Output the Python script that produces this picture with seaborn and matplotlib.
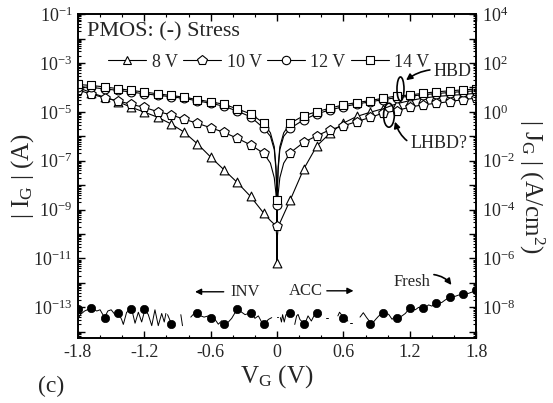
import numpy as np
import matplotlib
matplotlib.use("Agg")
import matplotlib.pyplot as plt
import seaborn as sns
from matplotlib.lines import Line2D
from matplotlib.patches import Ellipse
from matplotlib.ticker import FixedLocator, LogLocator, FuncFormatter, MultipleLocator, NullFormatter

nan = float("nan")

# gate voltage of the markers (V)
vg = [-1.8, -1.68, -1.56, -1.44, -1.32, -1.2, -1.08, -0.96, -0.84, -0.72, -0.6, -0.48, -0.36, -0.24, -0.12, 0.0,
      0.12, 0.24, 0.36, 0.48, 0.6, 0.72, 0.84, 0.96, 1.08, 1.2, 1.32, 1.44, 1.56, 1.68, 1.8]

# log10 |I_G| (A) after each stress voltage
ig_8v = [-4.0, -4.22, -4.4, -4.58, -4.81, -5.01, -5.22, -5.49, -5.83, -6.31, -6.85, -7.37, -7.89, -8.46, -9.15, -11.2,
         -8.6, -7.35, -6.39, -5.87, -5.46, -5.19, -5.02, -4.87, -4.67, -4.54, -4.44, -4.37, -4.33, -4.29, -4.24]
ig_10v = [-4.1, -4.28, -4.42, -4.55, -4.69, -4.82, -4.99, -5.12, -5.3, -5.47, -5.65, -5.84, -6.08, -6.35, -6.7, -9.68,
          -6.67, -6.25, -5.98, -5.73, -5.57, -5.40, -5.23, -5.05, -4.95, -4.81, -4.71, -4.65, -4.58, -4.50, -4.44]
ig_12v = [-3.98, -4.0, -4.06, -4.12, -4.19, -4.26, -4.32, -4.38, -4.45, -4.55, -4.65, -4.77, -4.97, -5.2, -5.67, -8.8,
          -5.67, -5.33, -5.08, -4.92, -4.79, -4.68, -4.59, -4.50, -4.42, -4.36, -4.30, -4.25, -4.21, -4.17, -4.14]
ig_14v = [-3.88, -3.92, -3.98, -4.05, -4.12, -4.19, -4.26, -4.33, -4.40, -4.50, -4.59, -4.69, -4.88, -5.08, -5.46, -8.6,
          -5.46, -5.16, -4.99, -4.85, -4.71, -4.62, -4.54, -4.44, -4.35, -4.31, -4.24, -4.18, -4.14, -4.10, -4.07]

# extra line points close to 0 V (no markers there)
dip_vg = [-0.06, -0.025, -0.01, -0.003, 0.003, 0.01, 0.025, 0.06]
dip_8v = [-9.45, -9.6, -9.7, -10.1, -10.1, -9.7, -9.55, -9.2]
dip_10v = [-7.1, -7.7, -8.35, -9.0, -9.0, -8.35, -7.7, -7.1]
dip_12v = [-6.0, -6.55, -7.35, -8.2, -8.2, -7.35, -6.55, -6.0]
dip_14v = [-5.86, -6.43, -7.24, -8.06, -8.06, -7.24, -6.43, -5.86]

# fresh device: noisy trace (nan = gap) and its markers
fresh_vg = [-1.80, -1.78, -1.74, -1.68, -1.63, -1.60, -1.56, -1.53, -1.50, -1.465, -1.435, -1.405, -1.39, -1.36,
            -1.314, -1.284, -1.254, -1.224, -1.194, -1.164, -1.133, -1.104, -1.074, -1.043, -1.02, -1.005, nan,
            -0.99, -0.953, nan, -0.87, -0.855, nan,
            -0.78, -0.75, -0.72, -0.69, -0.66, -0.62, -0.591, -0.56, -0.531, -0.50, -0.47, -0.44, -0.41, -0.38,
            -0.35, -0.32, -0.289, -0.26, -0.229, -0.20, -0.169, -0.14, -0.109, -0.08, -0.048, nan,
            -0.005, 0.012, nan,
            0.03, 0.04, 0.05, 0.065, 0.08, 0.11, 0.133, nan,
            0.16, 0.177, 0.19, 0.207, 0.25, 0.28, 0.31, 0.34, 0.37, 0.40, nan,
            0.44, 0.46, nan,
            0.55, 0.565, 0.58, 0.61, 0.64, nan, 0.66, 0.68, nan,
            0.75, 0.78, 0.81, 0.856, 0.89, 0.92, 0.95, 0.977, 1.01, 1.04, 1.07, 1.097, 1.13, 1.16, 1.19, 1.218,
            1.25, 1.28, 1.31, 1.339, 1.37, 1.40, 1.43, 1.459, 1.49, 1.52, 1.55, 1.58, 1.61, 1.64, 1.67, 1.70,
            1.73, 1.76, 1.80]
fresh_ig = [-13.5, -13.3, -13.15, -13.03, -13.15, -13.1, -13.42, -13.15, -13.1, -13.3, -13.22, -13.5, -13.7, -13.2,
            -13.08, -13.65, -13.2, -13.6, -13.08, -13.3, -13.75, -13.1, -13.75, -13.25, -13.6, -13.25, nan,
            -13.3, -13.69, nan, -13.3, -13.75, nan,
            -13.4, -13.25, -13.22, -13.35, -13.4, -13.35, -13.42, -13.5, -13.69, -13.55, -13.69, -13.6, -13.45,
            -13.22, -13.08, -13.2, -13.3, -13.25, -13.22, -13.45, -13.35, -13.6, -13.69, -13.5, -13.42, nan,
            -13.4, -13.4, nan,
            -13.42, -13.6, -13.3, -13.6, -13.3, -13.25, -13.22, nan,
            -13.7, -13.35, -13.29, -13.5, -13.69, -13.35, -13.56, -13.29, -13.22, -13.29, nan,
            -13.42, -13.42, nan,
            -13.35, -13.2, -13.29, -13.42, -13.56, nan, -13.63, -13.63, nan,
            -13.4, -13.22, -13.42, -13.69, -13.5, -13.35, -13.29, -13.22, -13.29, -13.49, -13.35, -13.42, -13.35,
            -13.25, -13.08, -13.02, -13.1, -13.0, -13.08, -13.02, -12.9, -12.95, -12.85, -12.84, -12.8, -12.7,
            -12.62, -12.58, -12.55, -12.5, -12.48, -12.47, -12.43, -12.38, -12.31]
fresh_mk_vg = [-1.8, -1.68, -1.56, -1.44, -1.32, -1.2, -0.96, -0.72, -0.6, -0.48, -0.36, -0.24, -0.12,
               0.12, 0.24, 0.36, 0.6, 0.84, 0.96, 1.08, 1.2, 1.32, 1.44, 1.56, 1.68, 1.8]
fresh_mk = [-13.05, -13.03, -13.42, -13.22, -13.08, -13.08, -13.69, -13.22, -13.42, -13.69, -13.08, -13.22, -13.69,
            -13.22, -13.69, -13.22, -13.42, -13.69, -13.22, -13.42, -13.02, -13.02, -12.84, -12.58, -12.47, -12.31]

gate_area = 1e-5  # cm^2, J_G = I_G / area
y_lo, y_hi = 5.5e-15, 1e-1

sns.set_theme(style="ticks")
plt.rcParams["font.family"] = ["Liberation Serif", "DejaVu Serif"]
plt.rcParams["mathtext.fontset"] = "custom"
plt.rcParams["mathtext.rm"] = "Liberation Serif"
plt.rcParams["mathtext.it"] = "Liberation Serif:italic"
plt.rcParams["axes.linewidth"] = 1.2

fig = plt.figure(figsize=(5.53, 4.03), dpi=100)
ax = fig.add_axes([0.141, 0.161, 0.72, 0.804])

# (values, dip values, marker, marker area, legend label)
curves = [(ig_8v, dip_8v, "^", 40, "8 V"), (ig_10v, dip_10v, "p", 52, "10 V"),
          (ig_12v, dip_12v, "o", 40, "12 V"), (ig_14v, dip_14v, "s", 38, "14 V")]
handles = []
for vals, dips, mk, size, lab in curves:
    x = np.array(vg + dip_vg)
    y = 10.0 ** np.array(vals + dips)
    order = np.argsort(x)
    sns.lineplot(x=x[order], y=y[order], sort=False, estimator=None, color="black", linewidth=0.8, ax=ax)
    sns.scatterplot(x=vg, y=10.0 ** np.array(vals), marker=mk, s=size, facecolor="white", edgecolor="black",
                    linewidth=0.8, zorder=3, ax=ax)
    handles.append(Line2D([], [], color="black", lw=0.8, marker=mk, markersize=np.sqrt(size) - 0.3,
                          markerfacecolor="white", markeredgecolor="black", markeredgewidth=0.8))

# fresh trace, one segment at a time so the gaps stay open
fx = np.array(fresh_vg)
fy = np.array(fresh_ig)
seg = np.cumsum(np.isnan(fy))
for k in np.unique(seg):
    m = (seg == k) & ~np.isnan(fy)
    if m.sum() > 1:
        sns.lineplot(x=fx[m], y=10.0 ** fy[m], sort=False, estimator=None, color="black", linewidth=0.7, ax=ax)
sns.scatterplot(x=fresh_mk_vg, y=10.0 ** np.array(fresh_mk), marker="o", s=36, color="black",
                edgecolor="black", linewidth=0.5, zorder=3, ax=ax)

ax.set_yscale("log")
ax.set_xlim(-1.8, 1.8)
ax.set_ylim(y_lo, y_hi)

ax.xaxis.set_major_locator(FixedLocator([-1.8, -1.2, -0.6, 0, 0.6, 1.2, 1.8]))
ax.set_xticklabels(["-1.8", "-1.2", "-0.6", "0", "0.6", "1.2", "1.8"])
ax.xaxis.set_minor_locator(MultipleLocator(0.2))

ax.yaxis.set_major_locator(FixedLocator([10.0 ** e for e in range(-14, 0)]))
ax.yaxis.set_major_formatter(FuncFormatter(
    lambda v, p: r"$\mathregular{10^{%d}}$" % round(np.log10(v)) if round(np.log10(v)) % 2 else ""))
ax.yaxis.set_minor_locator(LogLocator(base=10, subs=np.arange(2, 10), numticks=100))
ax.yaxis.set_minor_formatter(NullFormatter())

ax2 = ax.twinx()
ax2.set_yscale("log")
ax2.set_ylim(y_lo / gate_area, y_hi / gate_area)
ax2.yaxis.set_major_locator(FixedLocator([10.0 ** e for e in range(-9, 5)]))
ax2.yaxis.set_major_formatter(FuncFormatter(
    lambda v, p: "" if round(np.log10(v)) % 2 else r"$\mathregular{10^{%d}}$" % round(np.log10(v))))
ax2.yaxis.set_minor_locator(LogLocator(base=10, subs=np.arange(2, 10), numticks=100))
ax2.yaxis.set_minor_formatter(NullFormatter())

ax.tick_params(which="both", direction="in", top=True, right=False, labelsize=13, color="black", pad=4)
ax.tick_params(which="major", length=5, width=1)
ax.tick_params(which="minor", length=2.5, width=0.8)
ax2.tick_params(which="both", direction="in", labelsize=13, color="black", pad=4)
ax2.tick_params(which="major", length=5, width=1)
ax2.tick_params(which="minor", length=2.5, width=0.8)
for a in (ax, ax2):
    for s in a.spines.values():
        s.set_color("black")
        s.set_linewidth(1.2)

ax.set_xlabel(r"V$_\mathregular{G}$ (V)", fontsize=18, labelpad=2)
ax.set_ylabel(r"| I$_\mathregular{G}$ | (A)", fontsize=18, va="center")
ax.yaxis.set_label_coords(-0.14, 0.5)
ax2.set_ylabel(r"| J$_\mathregular{G}$ | (A/cm$^\mathregular{2}$)", fontsize=18, rotation=270, va="center")
ax2.yaxis.set_label_coords(1.14, 0.47)

ax.legend(handles, ["8 V", "10 V", "12 V", "14 V"], loc="center", bbox_to_anchor=(0.48, 0.852), ncol=4,
          frameon=False, fontsize=13, handlelength=2.1, columnspacing=0.3, handletextpad=0.3)

ax.text(0.023, 0.944, "PMOS: (-) Stress", transform=ax.transAxes, fontsize=16, va="center", ha="left")

# breakdown annotations
ax.add_patch(Ellipse((0.810, 0.769), 0.0176, 0.074, transform=ax.transAxes, fill=False, lw=1.2,
                     color="black", zorder=4))
ax.add_patch(Ellipse((0.781, 0.688), 0.027, 0.074, transform=ax.transAxes, fill=False, lw=1.2,
                     color="black", zorder=4))
ax.annotate("HBD", xy=(0.824, 0.796), xytext=(0.892, 0.822), xycoords="axes fraction",
            textcoords="axes fraction", fontsize=13, va="center", ha="left",
            arrowprops=dict(arrowstyle="-|>", color="black", lw=1.2, mutation_scale=9,
                            connectionstyle="arc3,rad=0.25", shrinkA=0, shrinkB=0))
ax.annotate("LHBD?", xy=(0.796, 0.668), xytext=(0.834, 0.601), xycoords="axes fraction",
            textcoords="axes fraction", fontsize=13, va="center", ha="left",
            arrowprops=dict(arrowstyle="-|>", color="black", lw=1.2, mutation_scale=9,
                            connectionstyle="arc3,rad=-0.5", shrinkA=0, shrinkB=0))

# inversion / accumulation
ax.annotate("", xy=(0.294, 0.143), xytext=(0.366, 0.143), xycoords="axes fraction",
            arrowprops=dict(arrowstyle="-|>", color="black", lw=1.0, mutation_scale=9, shrinkA=0, shrinkB=0))
ax.text(0.382, 0.143, "INV", transform=ax.transAxes, fontsize=12, va="center", ha="left")
ax.text(0.616, 0.146, "ACC", transform=ax.transAxes, fontsize=12, va="center", ha="right")
ax.annotate("", xy=(0.692, 0.146), xytext=(0.625, 0.146), xycoords="axes fraction",
            arrowprops=dict(arrowstyle="-|>", color="black", lw=1.0, mutation_scale=9, shrinkA=0, shrinkB=0))

ax.text(0.884, 0.174, "Fresh", transform=ax.transAxes, fontsize=12, va="center", ha="right")
ax.annotate("", xy=(0.938, 0.164), xytext=(0.894, 0.196), xycoords="axes fraction",
            arrowprops=dict(arrowstyle="-|>", color="black", lw=1.2, mutation_scale=9,
                            connectionstyle="arc3,rad=-0.2", shrinkA=0, shrinkB=0))

fig.text(0.092, 0.040, "(c)", fontsize=17, ha="center", va="center")

fig.savefig("out.png", dpi=100)
